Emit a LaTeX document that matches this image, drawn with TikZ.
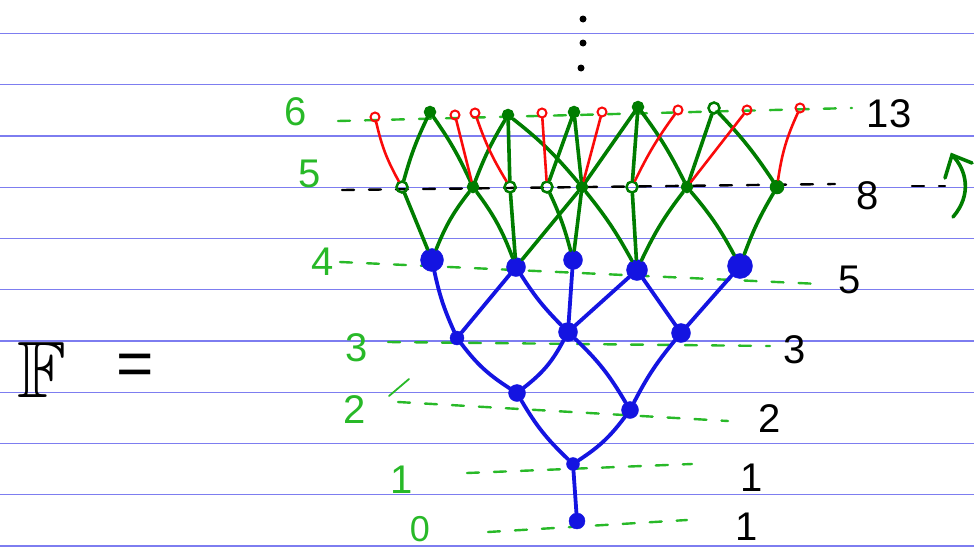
\documentclass[tikz,border=0pt]{standalone}
\usepackage{amssymb}
\usepackage{fontspec}
\setmainfont{Liberation Sans}
\definecolor{ruleblue}{RGB}{125,125,240}
\definecolor{myblue}{RGB}{20,20,225}
\definecolor{dgreen}{RGB}{0,125,0}
\definecolor{lgreen}{RGB}{40,185,40}
\definecolor{myred}{RGB}{250,10,10}
\tikzset{
  rule/.style={draw=ruleblue, line width=1.3pt},
  bnode/.style={circle, fill=myblue, draw=myblue, inner sep=0pt, minimum size=#1},
  bnode/.default=16pt,
  gnode/.style={circle, fill=dgreen, draw=dgreen, line width=1.5pt, inner sep=0pt, minimum size=#1},
  gnode/.default=11pt,
  gonode/.style={circle, draw=dgreen, line width=2.5pt, inner sep=0pt, minimum size=#1},
  gonode/.default=11pt,
  rnode/.style={circle, draw=myred, line width=2pt, inner sep=0pt, minimum size=9pt},
  dotn/.style={circle, fill=black, inner sep=0pt, minimum size=7pt},
  bedge/.style={draw=myblue, line width=3.8pt, line cap=round},
  gedge/.style={draw=dgreen, line width=3.6pt, line cap=round},
  redge/.style={draw=myred, line width=2.6pt, line cap=round},
  gdash/.style={draw=lgreen, line width=2.4pt, line cap=round, dash pattern=on 12pt off 15pt},
  kdash/.style={draw=black, line width=2.4pt, line cap=round, dash pattern=on 12pt off 15pt},
  glabel/.style={text=lgreen, font=\fontsize{40}{40}\selectfont, inner sep=0pt},
  klabel/.style={text=black, font=\fontsize{40}{40}\selectfont, inner sep=0pt},
}
\begin{document}
\begin{tikzpicture}[x=1pt, y=-1pt]
\useasboundingbox (0,0) rectangle (974,549);
\fill[white] (0,0) rectangle (974,549);
% ruled paper
\foreach \yy in {33.5,84.7,135.9,187.2,238.4,289.7,340.9,392.2,443.4,494.7,545.9}
  \draw[rule] (0,\yy) -- (974,\yy);

% level dashes
\draw[gdash] (338,121) -- (852,108);
\draw[kdash] (342,190) -- (835,184);
\draw[kdash] (912,186) -- (945,186);
\draw[gdash] (340,262) -- (820,284);
\draw[gdash] (388,342) -- (770,346);
\draw[gdash] (398,402) -- (728,421);
\draw[draw=lgreen, line width=1.8pt, line cap=round] (389,396) -- (409,379);
\draw[gdash] (467,473) -- (692,464);
\draw[gdash] (488,532) -- (687,520);

% vertical dots
\node[dotn] (d1) at (583,19) {};
\node[dotn] (d2) at (583,43) {};
\node[dotn] (d3) at (581,68) {};

% blue nodes
\node[bnode=16pt] (n0) at (577,521) {};
\node[bnode=13pt] (n1) at (573,464) {};
\node[bnode=17pt] (a2) at (517,393) {};
\node[bnode=17pt] (b2) at (630,410) {};
\node[bnode=14pt] (a3) at (457,338) {};
\node[bnode=19pt] (b3) at (568,332) {};
\node[bnode=19pt] (c3) at (681,333) {};
\node[bnode=23pt] (a4) at (432,260) {};
\node[bnode=19pt] (b4) at (516,267) {};
\node[bnode=19pt] (c4) at (573,260) {};
\node[bnode=21pt] (d4) at (637,270) {};
\node[bnode=25pt] (e4) at (740,266) {};

% level 5 (green)
\node[gonode] (f1) at (402,187) {};
\node[gnode]  (f2) at (473,187) {};
\node[gonode] (f3) at (510,187) {};
\node[gonode] (f4) at (547,187) {};
\node[gnode]  (f5) at (582,187) {};
\node[gonode] (f6) at (632,187) {};
\node[gnode]  (f7) at (687,187) {};
\node[gnode=13pt] (f8) at (777,187) {};

% level 6 green
\node[gnode] (s1) at (430,112) {};
\node[gnode] (s2) at (508,115) {};
\node[gnode] (s3) at (574,112) {};
\node[gnode] (s4) at (638,107) {};
\node[gonode] (s5) at (714,108) {};

% level 6 red
\node[rnode] (r1) at (375,117) {};
\node[rnode] (r2) at (455,115) {};
\node[rnode] (r3) at (475,113) {};
\node[rnode] (r4) at (542,113) {};
\node[rnode] (r5) at (602,112) {};
\node[rnode] (r6) at (678,110) {};
\node[rnode] (r7) at (747,110) {};
\node[rnode] (r8) at (800,108) {};

% blue edges
\draw[bedge] (n0) -- (n1);
\draw[bedge] (n1) to[bend left=8] (a2);
\draw[bedge] (n1) to[bend right=10] (b2);
\draw[bedge] (a2) to[bend left=10] (a3);
\draw[bedge] (a2) to[bend right=12] (b3);
\draw[bedge] (b2) to[bend right=8] (b3);
\draw[bedge] (b2) to[bend left=6] (c3);
\draw[bedge] (a3) to[bend left=6] (a4);
\draw[bedge] (a3) -- (b4);
\draw[bedge] (b3) to[bend left=6] (b4);
\draw[bedge] (b3) -- (c4);
\draw[bedge] (b3) -- (d4);
\draw[bedge] (c3) -- (d4);
\draw[bedge] (c3) -- (e4);

% level 5 -> level 4
\draw[gedge] (f1) -- (a4);
\draw[gedge] (f2) to[bend right=8] (a4);
\draw[gedge] (f2) to[bend left=8] (b4);
\draw[gedge] (f3) -- (b4);
\draw[gedge] (f4) to[bend left=5] (c4);
\draw[gedge] (f5) -- (b4);
\draw[gedge] (f5) -- (c4);
\draw[gedge] (f5) to[bend left=5] (d4);
\draw[gedge] (f6) -- (d4);
\draw[gedge] (f7) to[bend right=6] (d4);
\draw[gedge] (f7) to[bend left=6] (e4);
\draw[gedge] (f8) to[bend right=5] (e4);

% level 6 green -> level 5
\draw[gedge] (s1) to[bend right=5] (f1);
\draw[gedge] (s1) to[bend left=5] (f2);
\draw[gedge] (s2) to[bend right=5] (f2);
\draw[gedge] (s2) -- (f3);
\draw[gedge] (s2) to[bend left=6] (f5);
\draw[gedge] (s3) -- (f4);
\draw[gedge] (s3) -- (f5);
\draw[gedge] (s4) -- (f5);
\draw[gedge] (s4) -- (f6);
\draw[gedge] (s4) to[bend left=5] (f7);
\draw[gedge] (s5) -- (f7);
\draw[gedge] (s5) to[bend left=5] (f8);

% red edges
\draw[redge] (r1) to[bend right=8] (f1);
\draw[redge] (r2) -- (f2);
\draw[redge] (r3) to[bend right=6] (f3);
\draw[redge] (r4) -- (f4);
\draw[redge] (r5) -- (f5);
\draw[redge] (r6) to[bend right=5] (f6);
\draw[redge] (r7) -- (f7);
\draw[redge] (r8) to[bend right=8] (f8);

% curved arrow at right
\coordinate (ca) at (953,217);
\coordinate (cb) at (952,155);
\coordinate (ha) at (945,178);
\coordinate (hb) at (972,163);
\draw[gedge] (ca) .. controls (972,195) and (967,170) .. (cb);
\draw[gedge] (ha) -- (cb) -- (hb);

% level labels (left)
\node[glabel] (l6) at (296,112) {6};
\node[glabel] (l5) at (310,174) {5};
\node[glabel] (l4) at (323,262) {4};
\node[glabel] (l3) at (357,348) {3};
\node[glabel] (l2) at (355,410) {2};
\node[glabel] (l1) at (402,480) {1};
\node[glabel, font=\fontsize{36}{36}\selectfont] (l0) at (420,529) {0};

% counts (right)
\node[klabel] (c13) at (889,114) {13};
\node[klabel] (c8) at (868,196) {8};
\node[klabel] (c5) at (850,280) {5};
\node[klabel] (cc3) at (795,350) {3};
\node[klabel] (cc2) at (770,419) {2};
\node[klabel] (cc1) at (752,478) {1};
\node[klabel] (cc0) at (747,527) {1};

% F =
\node[klabel, font=\fontsize{80}{80}\selectfont] (F) at (42,370) {$\mathbb{F}$};
\node[klabel, font=\fontsize{64}{64}\selectfont] (eq) at (135,370) {=};
\end{tikzpicture}
\end{document}
